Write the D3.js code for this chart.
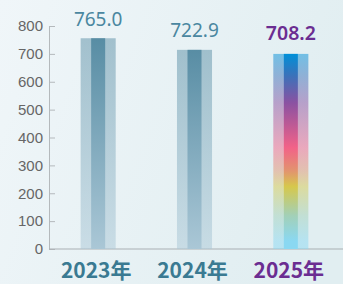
<!DOCTYPE html>
<html>
<head>
<meta charset="utf-8">
<script src="https://cdn.jsdelivr.net/npm/d3@7"></script>
<style>
  html, body { margin: 0; padding: 0; background: #eaf3f6; }
  svg { display: block; }
</style>
</head>
<body>
<svg id="chart" width="343" height="284"></svg>
<script>
// Data
const years = ['2023年', '2024年', '2025年'];
const values = [765.0, 722.9, 708.2];
const labels = ['765.0', '722.9', '708.2'];
const yTicks = [0, 100, 200, 300, 400, 500, 600, 700, 800];

const svg = d3.select('#chart');
const W = 343, H = 284;
const defs = svg.append('defs');

// background gradient
const bg = defs.append('linearGradient').attr('id', 'bg')
    .attr('x1', 0).attr('y1', 0).attr('x2', 1).attr('y2', 0.3);
bg.append('stop').attr('offset', 0).attr('stop-color', '#f0f6f9');
bg.append('stop').attr('offset', 1).attr('stop-color', '#e1eef1');
svg.append('rect').attr('width', W).attr('height', H).attr('fill', 'url(#bg)');

// blue-grey bars
const blue = defs.append('linearGradient').attr('id', 'blueBar')
    .attr('x1', 0).attr('y1', 0).attr('x2', 0).attr('y2', 1);
blue.append('stop').attr('offset', 0).attr('stop-color', '#588da4');
blue.append('stop').attr('offset', 1).attr('stop-color', '#aac7d6');

// rainbow bar
const rainbowStops = [
    [0, '#0090d8'], [0.11, '#3a72ba'], [0.25, '#8a52a2'], [0.48, '#f26288'],
    [0.6, '#e2946e'], [0.68, '#d6c84c'], [0.83, '#a2d0b8'], [0.96, '#8ad8f2'], [1, '#8ad8f2']
];
const rainbow = defs.append('linearGradient').attr('id', 'rainbowBar')
    .attr('x1', 0).attr('y1', 0).attr('x2', 0).attr('y2', 1);
rainbowStops.forEach(s => rainbow.append('stop').attr('offset', s[0]).attr('stop-color', s[1]));

// Scales
const y = d3.scaleLinear().domain([0, 800]).range([249, 26]);
const yBar = y.copy().range([249, 28.6]);
const x = d3.scaleBand().domain(years).range([50, 339])
    .paddingInner(0.636).paddingOuter(0.318);

// Y axis
const yAxis = svg.append('g')
    .attr('transform', 'translate(49,0)')
    .call(d3.axisLeft(y).tickValues(yTicks).tickSizeInner(-6).tickSizeOuter(0).tickPadding(6));
yAxis.select('.domain').attr('stroke', '#b4b9bc');
yAxis.selectAll('.tick line').attr('stroke', '#b4b9bc');
yAxis.selectAll('.tick text')
    .attr('fill', '#666')
    .attr('font-family', 'Liberation Sans, Arial, sans-serif')
    .attr('font-size', 15);

// X axis line
svg.append('line')
    .attr('x1', 49).attr('x2', W)
    .attr('y1', y(0)).attr('y2', y(0))
    .attr('stroke', '#a9afb3').attr('stroke-width', 1.2);

// Bars
const bw = x.bandwidth();
const innerW = bw * 0.4;
const bars = svg.append('g').selectAll('g').data(years).join('g');

bars.append('rect')
    .attr('x', d => x(d))
    .attr('y', (d, i) => yBar(values[i]))
    .attr('width', bw)
    .attr('height', (d, i) => yBar(0) - yBar(values[i]))
    .attr('fill', (d, i) => i === 2 ? 'url(#rainbowBar)' : 'url(#blueBar)')
    .attr('opacity', 0.5);

bars.append('rect')
    .attr('x', d => x(d) + (bw - innerW) / 2)
    .attr('y', (d, i) => yBar(values[i]))
    .attr('width', innerW)
    .attr('height', (d, i) => yBar(0) - yBar(values[i]))
    .attr('fill', (d, i) => i === 2 ? 'url(#rainbowBar)' : 'url(#blueBar)');

// Value labels
bars.append('text')
    .attr('x', d => x(d) + bw / 2)
    .attr('y', (d, i) => yBar(values[i]) - (i === 2 ? 14 : 12.5))
    .attr('text-anchor', 'middle')
    .attr('font-family', 'Noto Sans, Open Sans, sans-serif')
    .attr('font-size', (d, i) => i === 2 ? 19.5 : 19)
    .attr('font-weight', (d, i) => i === 2 ? 600 : 400)
    .attr('fill', (d, i) => i === 2 ? '#6b2d91' : '#4a87a0')
    .text((d, i) => labels[i]);

// Category labels
bars.append('text')
    .attr('x', d => x(d) + bw / 2 - 2)
    .attr('y', 278)
    .attr('text-anchor', 'middle')
    .attr('font-family', 'Noto Sans CJK SC, sans-serif')
    .attr('font-size', 21)
    .attr('font-weight', 700)
    .attr('fill', (d, i) => i === 2 ? '#6b2d91' : '#3a7a92')
    .text(d => d);
</script>
</body>
</html>
